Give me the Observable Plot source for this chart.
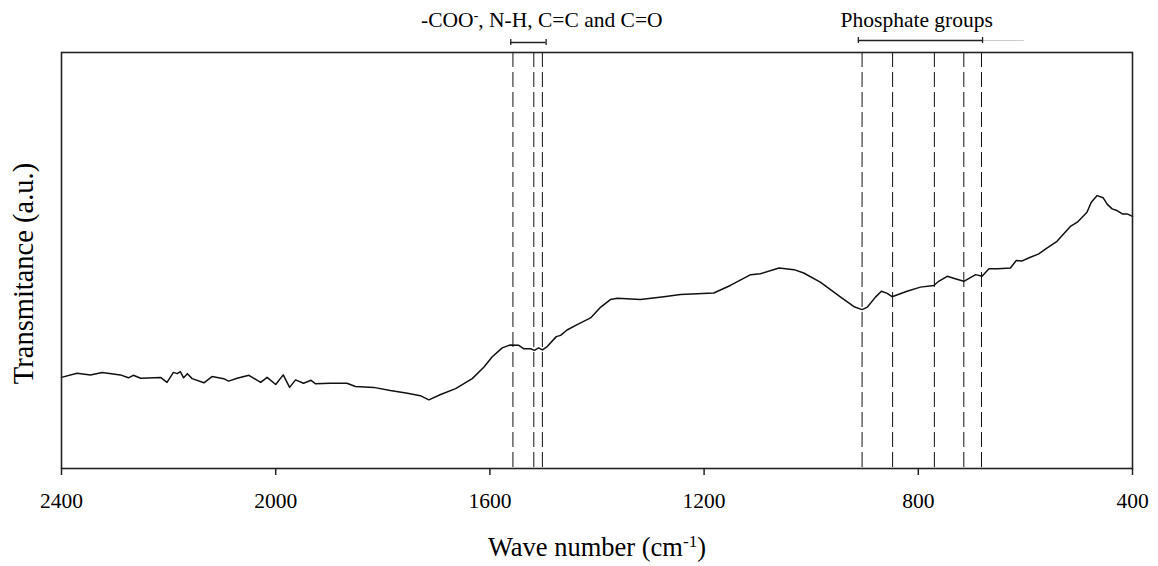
<!DOCTYPE html>
<html><head><meta charset="utf-8">
<script src="https://cdn.jsdelivr.net/npm/d3@7"></script>
<script src="https://cdn.jsdelivr.net/npm/@observablehq/plot@0.6"></script>
<style>body{margin:0;background:#fff}</style>
</head><body><div id="chart"></div>
<script>
// FTIR spectrum (wavenumber in cm^-1, transmittance in arbitrary units)
const wavenumber = [2400,2371,2346,2324,2290,2275,2266,2252,2215,2203,2191,2184,2178,2172,2165,2156,2134,2119,2097,2088,2072,2050,2028,2016,2000,1986,1974,1963,1948,1934,1926,1898,1867,1851,1817,1786,1754,1730,1714,1692,1664,1633,1611,1596,1577,1562,1546,1537,1524,1517,1509,1502,1493,1476,1468,1456,1437,1412,1393,1375,1362,1319,1275,1244,1182,1151,1113,1095,1060,1032,1014,983,945,920,905,895,880,869,858,849,821,796,771,762,746,731,715,693,681,668,653,643,628,617,606,594,575,562,541,516,503,485,477,466,455,447,438,429,419,410,400];
const transmittance = [21.9,22.9,22.5,23.1,22.5,21.8,22.4,21.7,21.9,20.7,23.1,22.8,23.3,21.8,22.8,21.6,20.6,22.1,21.6,21.0,21.7,22.4,20.7,21.9,20.2,22.5,19.5,21.3,20.5,21.2,20.4,20.5,20.5,19.7,19.5,18.75,18.1,17.5,16.5,17.8,19.2,21.6,24.4,26.8,29.0,29.7,29.6,28.8,28.8,28.4,29.0,28.5,29.3,31.7,32.0,33.3,34.6,36.2,38.8,40.6,40.9,40.6,41.3,41.8,42.2,44.0,46.6,46.8,48.2,47.8,47.0,44.8,41.2,38.9,38.2,38.8,41.2,42.6,42.1,41.3,42.6,43.6,44.0,45.0,46.2,45.6,45.0,46.6,46.2,48.0,48.0,48.1,48.2,50.0,49.9,50.6,51.6,52.8,54.6,58.2,59.2,61.6,64.0,65.6,65.1,63.5,62.4,62.0,61.2,61.2,60.6];
const xTicks = [2400, 2000, 1600, 1200, 800, 400];
const bandLines = [1557, 1518, 1502, 905, 848, 770, 715, 682];
const groupLabels = ["-COO^{-}, N-H, C=C and C=O", "Phosphate groups"];
const groupLabelX = [1503, 803];
const groupFrom = [1561, 912];
const groupTo = [1495, 680];
const tailFrom = [680];
const tailTo = [602];
const xTitle = "Wave number (cm^{-1})";
const yTitle = "Transmitance (a.u.)";
const yDomain = [0, 100];

const spectrum = wavenumber.map((w, i) => ({w, t: transmittance[i]}));
const groups = groupLabels.map((label, i) => ({label, x: groupLabelX[i], x1: groupFrom[i], x2: groupTo[i]}));
const tails = tailFrom.map((x1, i) => ({x1, x2: tailTo[i]}));
const yTop = yDomain[1];
const FONT = "'Liberation Serif', 'Times New Roman', serif";
const FS = 21.5;
const TS = 26.5;
const YS = 28.5;

function bracket(g, dy) {
  return [
    Plot.ruleY([g], {x1: "x1", x2: "x2", y: () => yTop, dy, stroke: "#222", strokeWidth: 1.3}),
    Plot.ruleX([g.x1, g.x2], {x: d => d, y1: () => yTop, y2: () => yTop, insetTop: -3, insetBottom: -3, dy, stroke: "#222", strokeWidth: 1.3})
  ];
}

const chart = Plot.plot({
  width: 1158, height: 566,
  marginTop: 52, marginRight: 26, marginBottom: 98, marginLeft: 61,
  style: {fontFamily: FONT, fontSize: FS + "px", background: "#fff", color: "#000", overflow: "visible"},
  x: {domain: [2400, 400], label: null},
  y: {domain: yDomain, axis: null},
  marks: [
    Plot.ruleX(bandLines, {x: d => d, stroke: "#111", strokeWidth: 1, strokeDasharray: "15,5"}),
    Plot.line(spectrum, {x: "w", y: "t", stroke: "#111", strokeWidth: 1.5}),
    Plot.frame({stroke: "#222", strokeWidth: 1.6}),
    Plot.axisX(xTicks, {tickSize: 7, tickPadding: 17, tickFormat: d => String(d), fontSize: FS, fill: "#000", stroke: "#222", strokeWidth: 1.5, label: null}),
    Plot.ruleY(tails, {x1: "x1", x2: "x2", y: () => yTop, dy: -12, stroke: "#ccc", strokeWidth: 1}),
    ...bracket(groups[0], -10),
    ...bracket(groups[1], -12),
    Plot.text(groups, {x: "x", text: "label", frameAnchor: "top", lineAnchor: "middle", dy: -32, fontSize: FS, fill: "#000"}),
    Plot.text([yTitle], {text: d => d, frameAnchor: "left", textAnchor: "middle", lineAnchor: "middle", rotate: -90, dx: -38, dy: 13, fontSize: YS, fill: "#000"}),
    Plot.text([xTitle], {text: d => d, frameAnchor: "bottom", textAnchor: "middle", lineAnchor: "middle", dx: 0, dy: 79.5, fontSize: TS, fill: "#000"})
  ]
});

// render "^{...}" as superscript tspans
d3.select(chart).selectAll("text").each(function () {
  const t = this.textContent;
  if (!t.includes("^{")) return;
  const sel = d3.select(this);
  sel.text(null);
  for (const p of t.split(/(\^\{[^}]*\})/)) {
    if (!p) continue;
    if (p.startsWith("^{")) sel.append("tspan").attr("baseline-shift", "super").attr("font-size", "65%").text(p.slice(2, -1));
    else sel.append("tspan").text(p);
  }
});

document.getElementById("chart").append(chart);
</script>
</body></html>
